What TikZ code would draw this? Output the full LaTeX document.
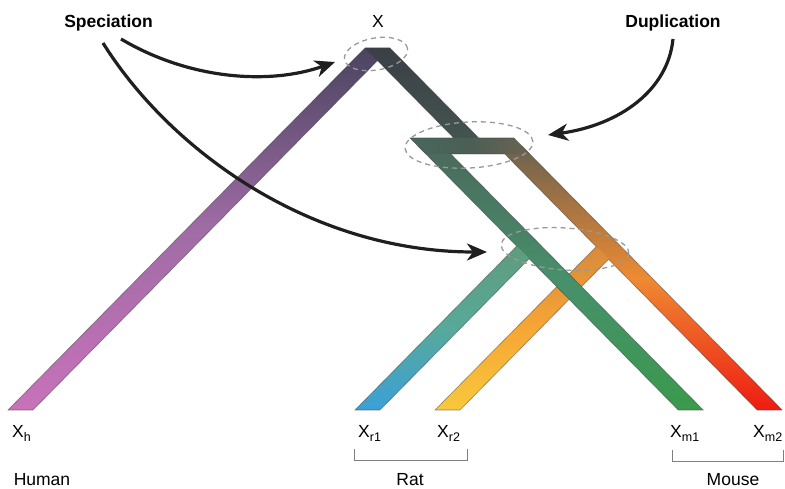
\documentclass[tikz,border=0pt]{standalone}
\usepackage{fontspec}
\setmainfont{Liberation Sans}
\usetikzlibrary{arrows.meta}

\definecolor{hA}{HTML}{4A4460}
\definecolor{hB}{HTML}{A06CA6}
\definecolor{hC}{HTML}{C872B9}
\definecolor{aA}{HTML}{3B3F47}
\definecolor{aB}{HTML}{44564F}
\definecolor{bA}{HTML}{4A685C}
\definecolor{bB}{HTML}{4B5E55}
\definecolor{bC}{HTML}{6C6450}
\definecolor{rA}{HTML}{6A6250}
\definecolor{rB}{HTML}{EE8A32}
\definecolor{rC}{HTML}{EE1C12}
\definecolor{yA}{HTML}{D88A3C}
\definecolor{yB}{HTML}{F6A634}
\definecolor{yC}{HTML}{F8C83C}
\definecolor{lA}{HTML}{4B685C}
\definecolor{lB}{HTML}{47906C}
\definecolor{lC}{HTML}{3A9A4C}
\definecolor{cA}{HTML}{5E9C7C}
\definecolor{cB}{HTML}{58A99A}
\definecolor{cC}{HTML}{3AA0D8}

\newcommand{\gsub}[1]{\raisebox{-4.5pt}{\fontsize{12.5}{13}\selectfont #1}}

\tikzset{
  edgeline/.style={draw=black!75, draw opacity=0.55, line width=0.6pt, line join=miter},
  ring/.style={draw=black!40, line width=1.3pt, dash pattern=on 5pt off 4pt},
  pointer/.style={draw=black!88, line width=3.2pt, -{Stealth[length=20pt,width=17pt,inset=6pt]}},
  plainlabel/.style={font=\fontsize{17.5}{20}\selectfont, inner sep=0pt},
  boldlabel/.style={font=\bfseries\fontsize{17.5}{20}\selectfont, inner sep=0pt, anchor=base},
  leaf/.style={font=\fontsize{17.5}{20}\selectfont, anchor=base west, inner sep=0pt},
  species/.style={font=\fontsize{17.5}{20}\selectfont, anchor=base, inner sep=0pt},
  bracket/.style={draw=black!50, line width=1pt},
}

\begin{document}
\begin{tikzpicture}[x=1pt,y=-1pt]
\useasboundingbox (0,0) rectangle (785,489);

% human arm
\shade[top color=hA, bottom color=hC, middle color=hB]
  (365,48) -- (390,48) -- (33,410) -- (8,410) -- cycle;
% arm from X to duplication
\shade[top color=aA, bottom color=aB]
  (365,48) -- (390,48) -- (486.6,146) -- (461.6,146) -- cycle;
% right copy (to mouse 2)
\shade[top color=rA, bottom color=rC, middle color=rB]
  (496.9,146) -- (521.9,146) -- (782.2,410) -- (757.2,410) -- cycle;
% rat copy 2
\shade[top color=yA, bottom color=yC, middle color=yB]
  (596.2,246.7) -- (608.6,259.3) -- (460,410) -- (435,410) -- cycle;
\draw[edgeline] (782.2,410) -- (757.2,410) -- (608.6,259.3) -- (460,410) -- (435,410)
  -- (596.2,246.7) -- (504.8,154);
% left copy (to mouse 1)
\shade[top color=lA, bottom color=lC, middle color=lB]
  (417.9,146) -- (442.9,146) -- (703.2,410) -- (678.2,410) -- cycle;
% rat copy 1
\shade[top color=cA, bottom color=cC, middle color=cB]
  (516.6,246.1) -- (529.1,258.8) -- (380,410) -- (355,410) -- cycle;
% duplication bar
\shade[left color=bA, right color=bC, middle color=bB]
  (410,138) -- (514,138) -- (529.8,154) -- (425.8,154) -- cycle;

\draw[edgeline] (425.8,154) -- (516.6,246.1) -- (355,410) -- (380,410) -- (529.1,258.8)
  -- (678.2,410) -- (703.2,410) -- (450.8,154) -- (504.8,154);
\draw[edgeline] (33,410) -- (8,410) -- (365,48) -- (390,48) -- (478.7,138) -- (514,138)
  -- (782.2,410);
\draw[edgeline] (33,410) -- (377.5,60.7) -- (453.7,138) -- (410,138) -- (425.8,154);

% dashed rings
\draw[ring, rotate around={10:(376,54)}] (376,54) ellipse [x radius=32pt, y radius=16pt];
\draw[ring, rotate around={3:(469,145)}] (469,145) ellipse [x radius=64pt, y radius=23pt];
\draw[ring, rotate around={-4:(565,249)}] (565,249) ellipse [x radius=64pt, y radius=21pt];

% labels
\node[plainlabel] (xroot) at (378,21.5) {X};
\node[boldlabel] (spec) at (108.5,28) {Speciation};
\node[boldlabel] (dupl) at (673,28) {Duplication};

\coordinate (specA) at (121,39);
\coordinate (specB) at (103,43);
\coordinate (duplS) at (673,39);
\coordinate (tipX) at (335,62);
\coordinate (tipS) at (487,252);
\coordinate (tipD) at (548,135);

\draw[pointer] (specA) .. controls (190,80) and (270,85) .. (tipX);
\draw[pointer] (specB) .. controls (170,150) and (310,252) .. (tipS);
\draw[pointer] (duplS) .. controls (668,90) and (620,125) .. (tipD);

% leaves
\node[leaf] (xh) at (12,437) {X\gsub{h}};
\node[leaf] (xr1) at (358,437) {X\gsub{r1}};
\node[leaf] (xr2) at (437,437) {X\gsub{r2}};
\node[leaf] (xm1) at (670,437) {X\gsub{m1}};
\node[leaf] (xm2) at (753,437) {X\gsub{m2}};

% brackets
\coordinate (ratL) at (354,449);
\coordinate (ratR) at (467,449);
\coordinate (mouL) at (672,450);
\coordinate (mouR) at (783,450);
\draw[bracket] (ratL) -- ++(0,11) -| (ratR);
\draw[bracket] (mouL) -- ++(0,11) -| (mouR);

\node[species] (human) at (42,485) {Human};
\node[species] (rat) at (410,485) {Rat};
\node[species] (mouse) at (733,485) {Mouse};
\end{tikzpicture}
\end{document}
